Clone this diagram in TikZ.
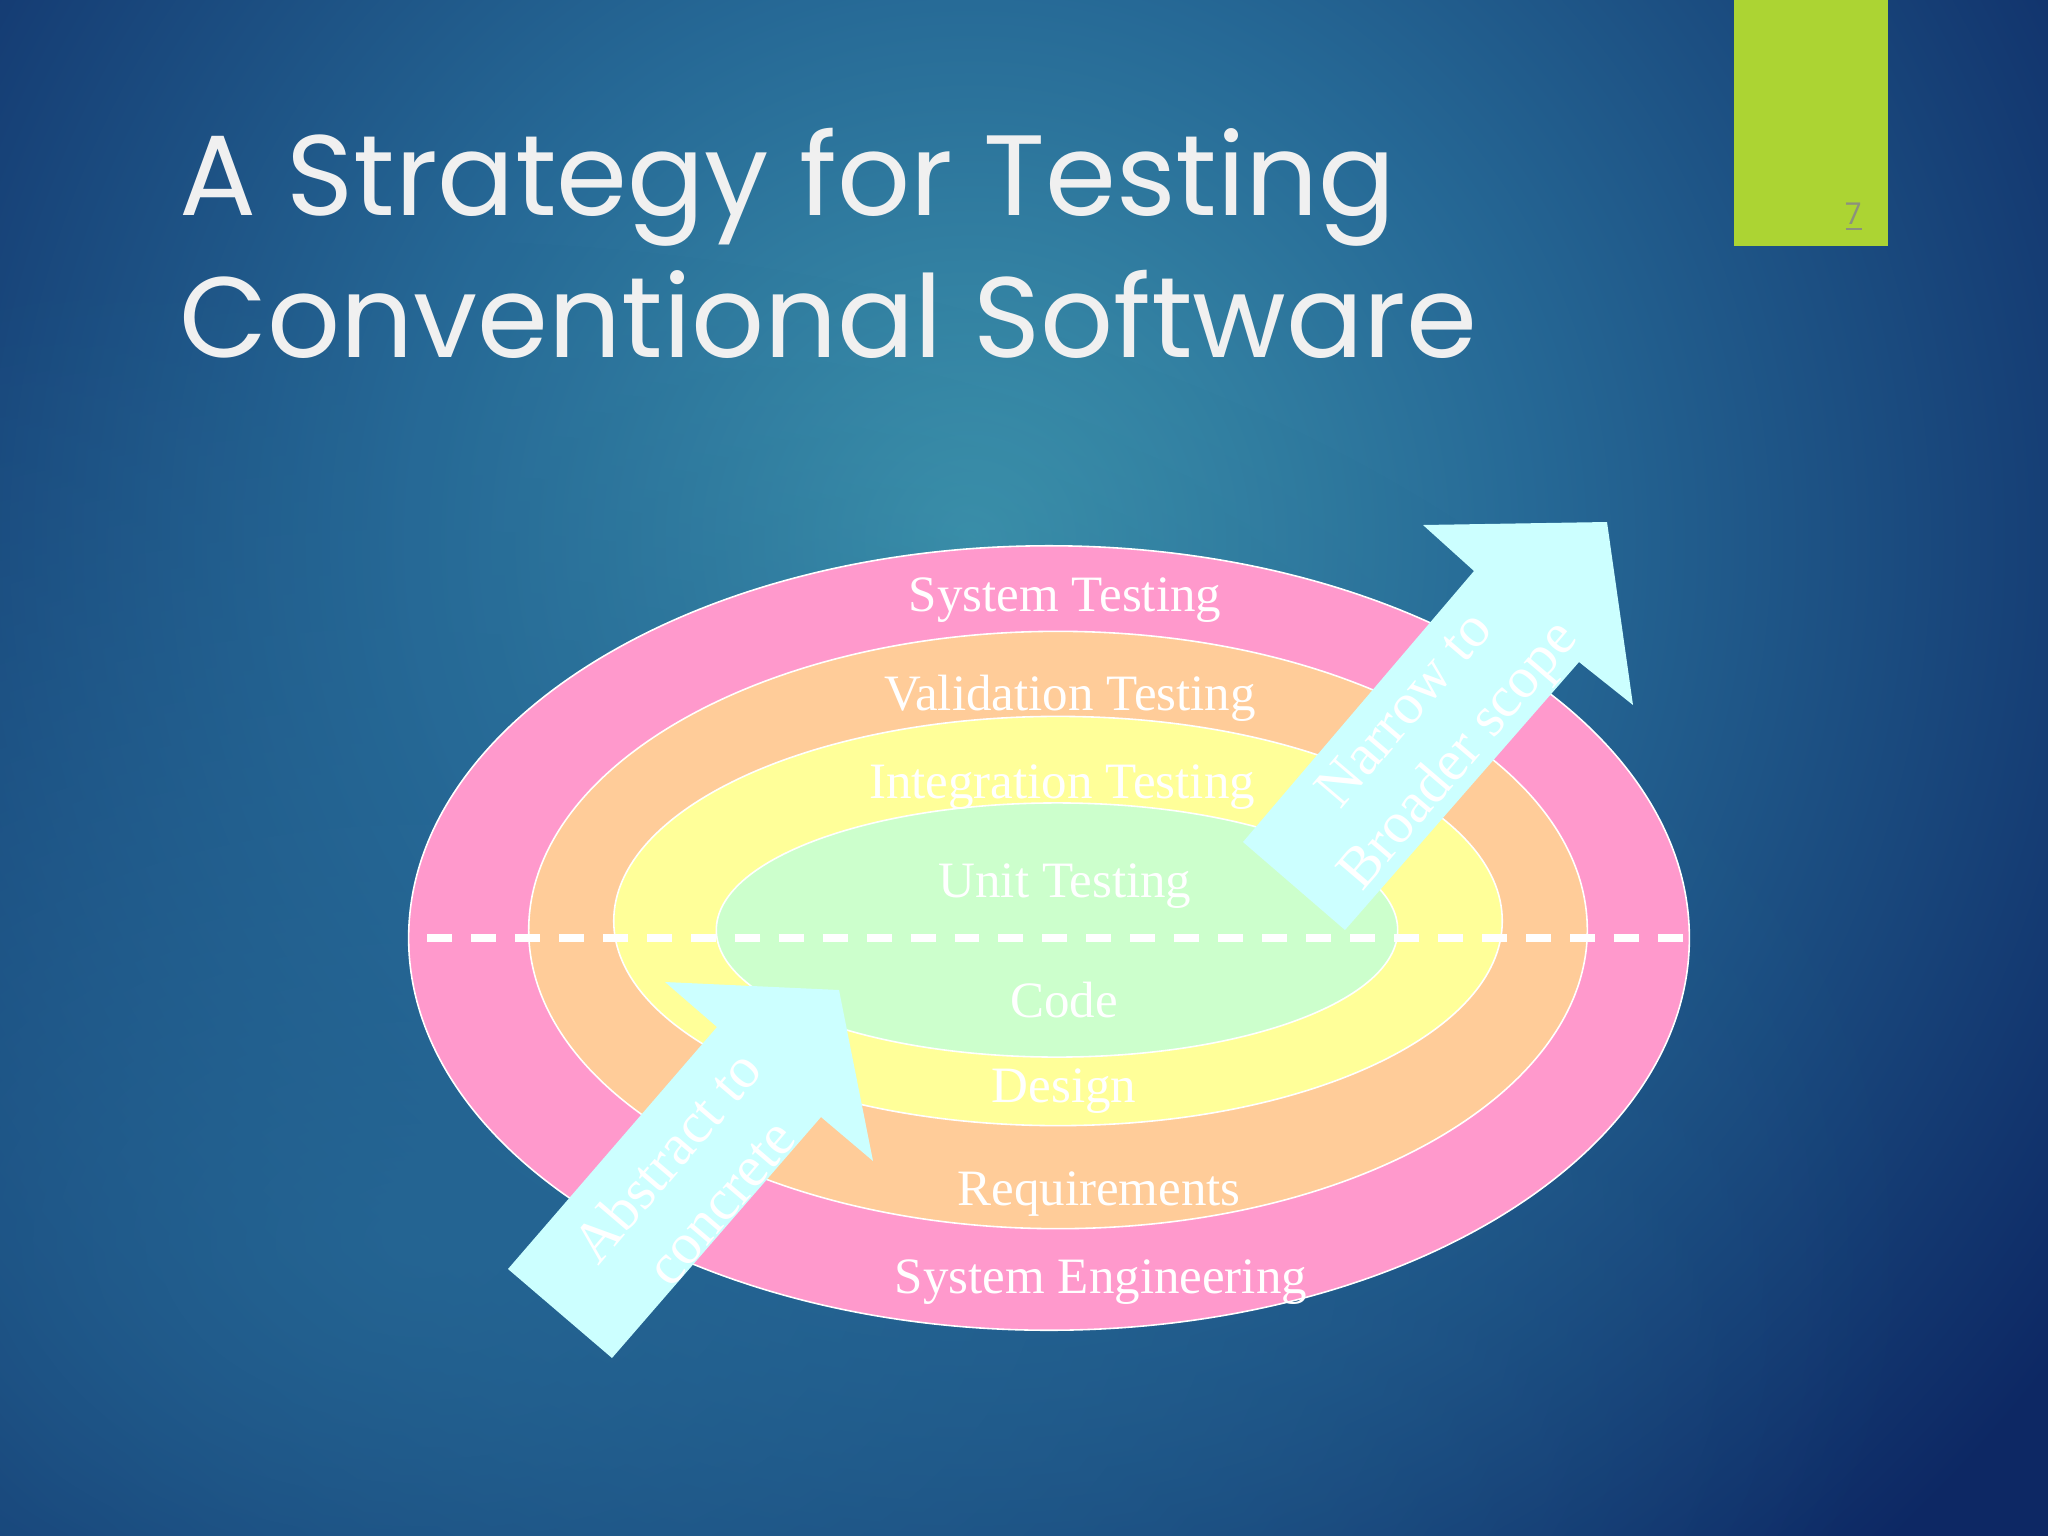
\documentclass[tikz,border=0pt]{standalone}
\usepackage{fontspec}
\setmainfont{Liberation Serif}
\newfontfamily\titlefont{Poppins}
\usetikzlibrary{fadings}
\definecolor{bgdark}{RGB}{13,40,100}
\definecolor{bgmid}{RGB}{38,105,150}
\definecolor{bglight}{RGB}{62,150,173}
\definecolor{ringpink}{RGB}{255,153,204}
\definecolor{ringorange}{RGB}{255,204,153}
\definecolor{ringyellow}{RGB}{255,255,153}
\definecolor{ringgreen}{RGB}{204,255,204}
\definecolor{arrowcyan}{RGB}{204,255,255}
\definecolor{tabgreen}{RGB}{172,212,51}
\definecolor{titlegray}{RGB}{240,240,240}
\definecolor{pagegray}{RGB}{140,145,125}
\pgfdeclareradialshading{slideglow}{\pgfpointorigin}{color(0bp)=(bglight); color(7bp)=(bgmid); color(17bp)=(bgdark); color(50bp)=(bgdark)}
\tikzfading[name=glowfade, inner color=transparent!0, outer color=transparent!100]

\begin{document}
\begin{tikzpicture}[x=0.01cm, y=-0.01cm, every node/.style={inner sep=0pt, outer sep=0pt}]
  \tikzset{ring/.style={draw=white, line width=0.45pt},
    ringlabel/.style={anchor=base, text=white, font=\fontsize{14.5}{17}\selectfont},
    blockarrow/.style={fill=arrowcyan},
    arrowlabel/.style={text=white, align=center, rotate=49.5, font=\fontsize{16.5}{20}\selectfont},
    titleline/.style={anchor=base west, text=titlegray, font=\titlefont\fontsize{32.5}{40}\selectfont}}
  \useasboundingbox (0,0) rectangle (2048,1536);
  \begin{scope}
    \clip (0,0) rectangle (2048,1536);
    \shade[shading=slideglow] (970,540) circle [radius=20cm];
    \fill[bgmid, path fading=glowfade, fill opacity=0.85] (420,1240) ellipse [x radius=15cm, y radius=10cm];
  \end{scope}
  \fill[tabgreen] (1734,0) rectangle (1888,246);
  \node[anchor=base, text=pagegray, font=\titlefont\fontsize{8.5}{10}\selectfont] (pagenum) at (1854,224) {\underline{7}};
  \node[titleline] (title1) at (179,215) {A Strategy for Testing};
  \node[titleline] (title2) at (179,357) {Conventional Software};
  % nested rings
  \draw[ring, fill=ringpink] (1049,938) ellipse [x radius=6.40cm, y radius=3.92cm];
  \draw[ring, fill=ringorange] (1058,930) ellipse [x radius=5.29cm, y radius=2.985cm];
  \draw[ring, fill=ringyellow] (1058,921) ellipse [x radius=4.44cm, y radius=2.045cm];
  \draw[ring, fill=ringgreen] (1057,930) ellipse [x radius=3.405cm, y radius=1.27cm];
  \coordinate (dashL) at (427,938);
  \coordinate (dashR) at (1689,938);
  \draw[white, line width=2pt, dash pattern=on 7.1pt off 5.4pt] (dashL) -- (dashR);
  \node[ringlabel] (systest) at (1065,611) {System Testing};
  \node[ringlabel] (valtest) at (1070,710) {Validation Testing};
  \node[ringlabel] (inttest) at (1062,798) {Integration Testing};
  \node[ringlabel] (unittest) at (1065,897) {Unit Testing};
  \node[ringlabel] (code) at (1064,1017) {Code};
  \node[ringlabel] (design) at (1064,1102) {Design};
  \node[ringlabel] (reqs) at (1099,1205) {Requirements};
  \node[ringlabel] (syseng) at (1101,1293) {System Engineering};
  % block arrows
  \fill[blockarrow] (508,1269) -- (717,1027) -- (665,982) -- (839,990) -- (873,1161) -- (821,1117) -- (612,1358) -- cycle;
  \fill[blockarrow] (1243,842) -- (1474,571) -- (1423,525) -- (1607,522) -- (1633,705) -- (1579,662) -- (1345,930) -- cycle;
  \node[arrowlabel] (abstract) at (693,1179) {Abstract to\\concrete};
  \node[arrowlabel] (narrow) at (1434,735) {Narrow to\\Broader scope};
\end{tikzpicture}
\end{document}
